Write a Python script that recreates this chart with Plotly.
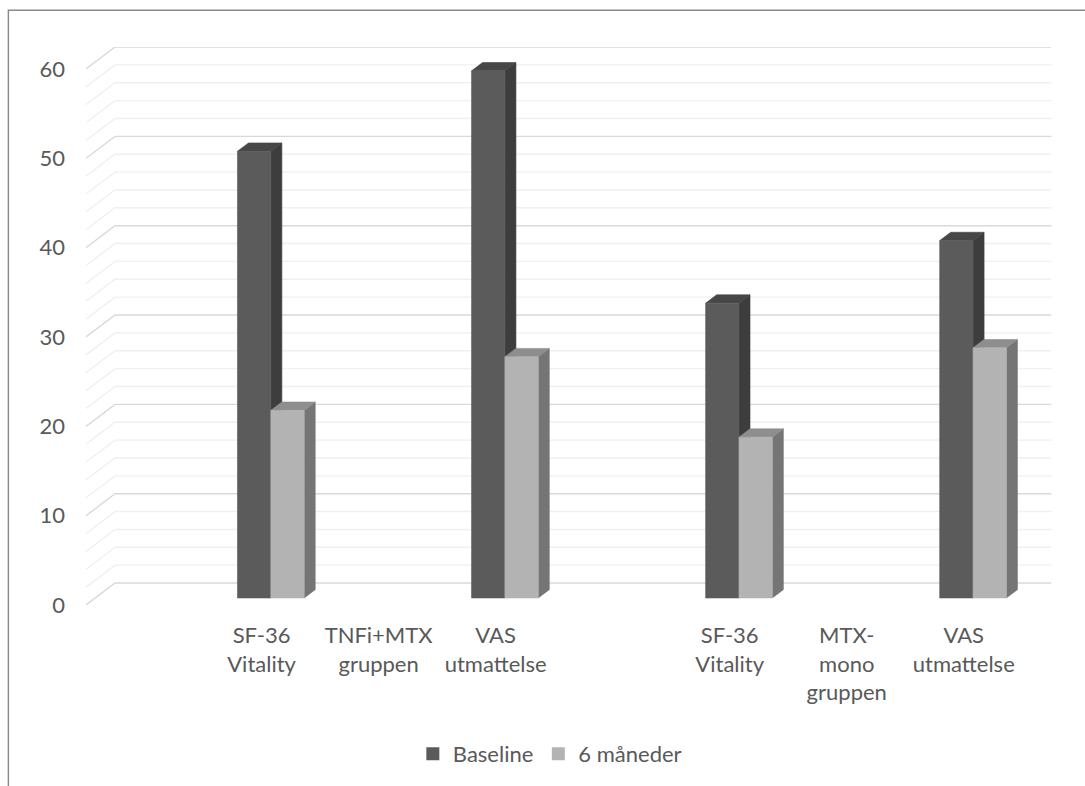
import plotly.graph_objects as go

# Chart data
categories = ["", "SF-36<br>Vitality", "TNFi+MTX<br>gruppen", "VAS<br>utmattelse",
              "", "SF-36<br>Vitality", "MTX-<br>mono<br>gruppen", "VAS<br>utmattelse"]
baseline = [None, 50, None, 59, None, 33, None, 40]
six_months = [None, 21, None, 27, None, 18, None, 28]
series_names = ["Baseline", "6 måneder"]
y_ticks = [0, 10, 20, 30, 40, 50, 60]
y_max = 60
minor_step = 2

# Layout geometry (pixels)
W, H = 1085, 786
PLOT_L, PLOT_R, PLOT_T, PLOT_B = 86.3, 1053, 47, 606
CAT_PX = 117.0          # width of one category on the front plane
UNIT_PX = 8.95          # pixels per value unit
WALL_DX_PX, WALL_DY_PX = 29.0, 22.0   # oblique depth of the walls

x_range = [-0.5, -0.5 + (PLOT_R - PLOT_L) / CAT_PX]
y_range = [0, (PLOT_B - PLOT_T) / UNIT_PX]
DEPTH_X = WALL_DX_PX / CAT_PX
DEPTH_Y = WALL_DY_PX / UNIT_PX

BAR_W = 0.285           # bar width in category units
D_FRONT, D_BACK = 0.32, 0.70   # depth span of the bars


def proj(x, v, d):
    """Oblique projection of (category x, value v, depth d) onto the front plane."""
    return x + d * DEPTH_X, v + d * DEPTH_Y


def px_to_paper_x(px):
    return (px - PLOT_L) / (PLOT_R - PLOT_L)


def px_to_paper_y(py):
    return (PLOT_B - py) / (PLOT_B - PLOT_T)


fig = go.Figure()

# Wall gridlines: side wall diagonal + back wall horizontal
n_cat = len(categories)
for level in range(0, y_max + 1, minor_step):
    major = level % 10 == 0
    pts = [proj(-0.5, level, 0), proj(-0.5, level, 1), proj(n_cat - 0.5, level, 1)]
    fig.add_trace(go.Scatter(
        x=[p[0] for p in pts], y=[p[1] for p in pts], mode="lines",
        line=dict(color="#d9d9d9" if major else "#f0f0f0", width=1.4),
        hoverinfo="skip", showlegend=False))

# 3D bars
face_colors = [
    {"front": "#5b5b5b", "side": "#3d3d3d", "top": "#474747"},
    {"front": "#b3b3b3", "side": "#757575", "top": "#8e8e8e"},
]


def face_trace(xs, ys, color):
    return go.Scatter(x=xs, y=ys, mode="lines", fill="toself", fillcolor=color,
                      line=dict(color=color, width=0.6),
                      hoverinfo="skip", showlegend=False)


for s, values in enumerate([baseline, six_months]):
    faces = {"side": ([], []), "top": ([], []), "front": ([], [])}
    for i, v in enumerate(values):
        if v is None:
            continue
        xl = i - BAR_W + s * BAR_W
        xr = xl + BAR_W
        polys = {
            "front": [proj(xl, 0, D_FRONT), proj(xr, 0, D_FRONT), proj(xr, v, D_FRONT), proj(xl, v, D_FRONT)],
            "side": [proj(xr, 0, D_FRONT), proj(xr, 0, D_BACK), proj(xr, v, D_BACK), proj(xr, v, D_FRONT)],
            "top": [proj(xl, v, D_FRONT), proj(xr, v, D_FRONT), proj(xr, v, D_BACK), proj(xl, v, D_BACK)],
        }
        for k, poly in polys.items():
            xs, ys = faces[k]
            poly = poly + [poly[0]]
            xs.extend([p[0] for p in poly] + [None])
            ys.extend([p[1] for p in poly] + [None])
    for k in ["side", "top", "front"]:
        fig.add_trace(face_trace(faces[k][0], faces[k][1], face_colors[s][k]))

# Legend entries
for s, name in enumerate(series_names):
    fig.add_trace(go.Scatter(
        x=[None], y=[None], mode="markers", name=name,
        marker=dict(symbol="square", size=13, color=face_colors[s]["front"], line=dict(width=0))))

# Chart frame
fig.add_shape(type="rect", xref="paper", yref="paper",
              x0=px_to_paper_x(8.7), x1=px_to_paper_x(W + 20),
              y0=px_to_paper_y(H + 20), y1=px_to_paper_y(10.2),
              line=dict(color="#8a8a8a", width=1.4), fillcolor="rgba(0,0,0,0)", layer="below")

text_color = "#595959"
fig.update_layout(
    width=W, height=H,
    margin=dict(l=PLOT_L, r=W - PLOT_R, t=PLOT_T, b=H - PLOT_B, pad=0),
    paper_bgcolor="white", plot_bgcolor="white",
    font=dict(family="Lato", size=22, color=text_color),
    xaxis=dict(range=x_range, tickmode="array", tickvals=list(range(n_cat)), ticktext=categories,
               showgrid=False, zeroline=False, showline=False, ticks="",
               ticklabelstandoff=15, tickfont=dict(size=22, color=text_color), fixedrange=True),
    yaxis=dict(range=y_range, tickmode="array", tickvals=y_ticks, ticktext=[str(t) for t in y_ticks],
               showgrid=False, zeroline=False, showline=False, ticks="",
               ticklabelstandoff=20, tickfont=dict(size=22, color=text_color), fixedrange=True),
    legend=dict(orientation="h", xanchor="center", yanchor="middle",
                x=px_to_paper_x(550), y=px_to_paper_y(754),
                font=dict(size=22, color=text_color), itemwidth=30,
                bgcolor="rgba(0,0,0,0)"),
    showlegend=True,
)

fig.write_html("out.html")
